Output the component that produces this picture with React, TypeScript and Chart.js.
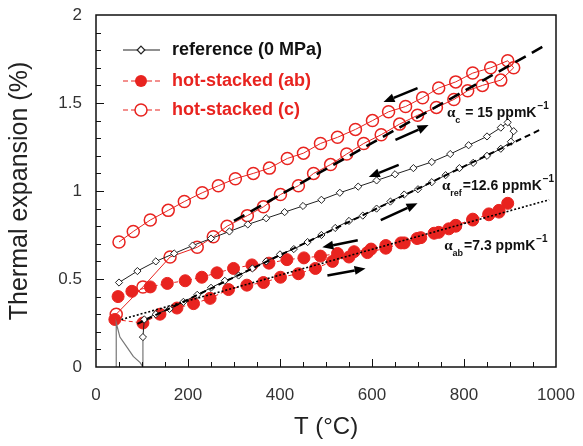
import React, { useEffect, useRef } from "react";
import { Chart, registerables } from "chart.js";

Chart.register(...registerables);

const FONT = "'Liberation Sans', Arial, Helvetica, sans-serif";
const SERIF = "'Liberation Serif', 'Times New Roman', serif";
const RED = "#e8231f";

// ---- tick labels ----
const xTickValues = [0, 200, 400, 600, 800, 1000];
const yTickValues = [0, 0.5, 1, 1.5, 2];

// ---- reference (0 MPa): heating branch, loop, cooling branch ----
const refT = [102, 105, 130, 160, 190, 220, 250, 280, 310, 340, 370, 400, 430, 460, 490, 520, 550, 580, 610, 640, 670, 700, 730, 760, 790, 820, 850, 880, 902,
  908, 895, 880, 850, 810, 770, 730, 690, 650, 610, 570, 530, 490, 450, 410, 370, 330, 290, 250, 210, 170, 130, 90, 50];
const refE = [0.17, 0.27, 0.30, 0.33, 0.37, 0.41, 0.45, 0.49, 0.52, 0.56, 0.60, 0.64, 0.67, 0.71, 0.75, 0.79, 0.83, 0.86, 0.90, 0.94, 0.98, 1.01, 1.05, 1.09, 1.13, 1.16, 1.20, 1.24, 1.28,
  1.34, 1.39, 1.36, 1.31, 1.26, 1.21, 1.165, 1.13, 1.095, 1.06, 1.025, 0.99, 0.95, 0.915, 0.88, 0.845, 0.81, 0.77, 0.73, 0.69, 0.645, 0.60, 0.545, 0.48];

// ---- initial transient (grey) ----
const transT = [44, 44, 52, 68, 81, 96, 102, 102];
const transE = [0, 0.25, 0.17, 0.11, 0.06, 0.025, 0.0, 0.17];

// ---- hot-stacked (ab): heating then cooling ----
const abT = [41, 102, 139, 176, 212, 248, 288, 328, 364, 401, 440, 477, 514, 550, 590, 630, 670, 706, 745, 782, 819, 854, 876, 895,
  876, 854, 819, 782, 767, 735, 698, 663, 630, 598, 561, 525, 488, 452, 415, 376, 339, 299, 263, 230, 194, 155, 118, 78, 48];
const abE = [0.27, 0.25, 0.30, 0.335, 0.36, 0.39, 0.44, 0.465, 0.48, 0.51, 0.53, 0.56, 0.60, 0.625, 0.65, 0.675, 0.705, 0.735, 0.765, 0.80, 0.835, 0.87, 0.88, 0.93,
  0.89, 0.865, 0.84, 0.805, 0.785, 0.76, 0.73, 0.705, 0.69, 0.67, 0.655, 0.645, 0.63, 0.62, 0.61, 0.59, 0.58, 0.56, 0.535, 0.51, 0.49, 0.475, 0.455, 0.43, 0.40];

// ---- hot-stacked (c): heating then cooling ----
const cT = [44, 102, 161, 220, 255, 285, 329, 364, 401, 440, 473, 510, 545, 582, 620, 660, 699, 740, 778, 808, 840, 880, 908,
  895, 858, 819, 782, 745, 710, 673, 636, 601, 564, 525, 488, 451, 416, 377, 342, 303, 266, 231, 192, 157, 118, 81, 50];
const cE = [0.30, 0.455, 0.625, 0.68, 0.74, 0.80, 0.86, 0.91, 0.98, 1.03, 1.10, 1.15, 1.21, 1.27, 1.32, 1.38, 1.43, 1.475, 1.52, 1.57, 1.60, 1.63, 1.70,
  1.74, 1.70, 1.67, 1.62, 1.585, 1.53, 1.48, 1.45, 1.40, 1.35, 1.305, 1.27, 1.215, 1.185, 1.13, 1.10, 1.07, 1.03, 0.99, 0.94, 0.89, 0.835, 0.77, 0.71];

// ---- linear fits ----
const fitCT = [300, 978];
const fitCE = [0.83, 1.83];
const fitRefT = [90, 967];
const fitRefE = [0.245, 1.35];
const fitAbT = [55, 985];
const fitAbE = [0.27, 0.95];

// ---- direction arrows (from -> to, data coords) ----
const arrowFromT = [699, 651, 658, 619, 569, 503];
const arrowFromE = [1.585, 1.29, 1.148, 0.835, 0.72, 0.52];
const arrowToT = [625, 723, 593, 699, 492, 586];
const arrowToE = [1.505, 1.375, 1.08, 0.93, 0.68, 0.56];

// ---- annotations ----
const annSub = ["c", "ref", "ab"];
const annText = [" = 15 ppmK", "=12.6 ppmK", "=7.3 ppmK"];
const annT = [763, 752, 757];
const annE = [1.42, 1.006, 0.665];

// ---- legend ----
const legendLabels = ["reference (0 MPa)", "hot-stacked (ab)", "hot-stacked (c)"];

const pts = (t: number[], e: number[]) => t.map((x, i) => ({ x, y: e[i] }));

function drawArrow(ctx: CanvasRenderingContext2D, x1: number, y1: number, x2: number, y2: number) {
  const ang = Math.atan2(y2 - y1, x2 - x1);
  const hl = 11, hw = 4.5;
  const bx = x2 - hl * Math.cos(ang), by = y2 - hl * Math.sin(ang);
  ctx.beginPath();
  ctx.moveTo(x1, y1);
  ctx.lineTo(bx, by);
  ctx.lineWidth = 2.5;
  ctx.stroke();
  ctx.beginPath();
  ctx.moveTo(x2, y2);
  ctx.lineTo(bx - hw * Math.sin(ang), by + hw * Math.cos(ang));
  ctx.lineTo(bx + hw * Math.sin(ang), by - hw * Math.cos(ang));
  ctx.closePath();
  ctx.fill();
}

const zeroPad = (s: any) => { s.paddingTop = 0; s.paddingBottom = 0; s.paddingLeft = 0; s.paddingRight = 0; };

const overlay = {
  id: "overlay",
  afterDatasetsDraw(chart: any) {
    const { ctx, chartArea: a, scales } = chart;
    const xs = scales.x, ys = scales.y;
    ctx.save();
    // frame
    ctx.strokeStyle = "#111";
    ctx.lineWidth = 1.5;
    ctx.strokeRect(a.left, a.top, a.right - a.left, a.bottom - a.top);
    // inward ticks
    ctx.lineWidth = 1;
    ctx.beginPath();
    for (let v = 50; v < 1000; v += 50) {
      const px = Math.round(xs.getPixelForValue(v)) + 0.5;
      const len = v % 200 === 0 ? 8 : 5;
      ctx.moveTo(px, a.bottom);
      ctx.lineTo(px, a.bottom - len);
    }
    for (let k = 1; k < 20; k++) {
      const v = k / 10;
      const py = Math.round(ys.getPixelForValue(v)) + 0.5;
      const len = k % 5 === 0 ? 8 : 5;
      ctx.moveTo(a.left, py);
      ctx.lineTo(a.left + len, py);
    }
    ctx.stroke();

    // arrows
    ctx.strokeStyle = "#000";
    ctx.fillStyle = "#000";
    for (let i = 0; i < arrowFromT.length; i++) {
      drawArrow(ctx,
        xs.getPixelForValue(arrowFromT[i]), ys.getPixelForValue(arrowFromE[i]),
        xs.getPixelForValue(arrowToT[i]), ys.getPixelForValue(arrowToE[i]));
    }

    // annotations
    ctx.textBaseline = "alphabetic";
    ctx.textAlign = "left";
    for (let i = 0; i < annSub.length; i++) {
      let px = xs.getPixelForValue(annT[i]);
      const py = ys.getPixelForValue(annE[i]);
      ctx.fillStyle = "#111";
      ctx.font = `bold 15px ${SERIF}`;
      ctx.fillText("α", px, py);
      px += ctx.measureText("α").width;
      ctx.font = `bold 9px ${FONT}`;
      ctx.fillText(annSub[i], px, py + 6);
      px += ctx.measureText(annSub[i]).width + 1;
      ctx.font = `bold 14px ${FONT}`;
      ctx.fillText(annText[i], px, py);
      px += ctx.measureText(annText[i]).width + 1;
      ctx.font = `bold 10px ${FONT}`;
      ctx.fillText("−1", px, py - 8);
    }

    // legend
    const lx0 = 123, lx1 = 160, lpx = 141, tx = 172;
    const ly = [50, 81, 110];
    ctx.strokeStyle = "#222";
    ctx.lineWidth = 1.2;
    ctx.setLineDash([]);
    ctx.beginPath(); ctx.moveTo(lx0, ly[0]); ctx.lineTo(lx1, ly[0]); ctx.stroke();
    ctx.fillStyle = "#fff";
    ctx.beginPath();
    ctx.moveTo(lpx, ly[0] - 3.8); ctx.lineTo(lpx + 3.8, ly[0]); ctx.lineTo(lpx, ly[0] + 3.8); ctx.lineTo(lpx - 3.8, ly[0]); ctx.closePath();
    ctx.fill(); ctx.stroke();
    ctx.strokeStyle = RED;
    ctx.setLineDash([5, 3]);
    ctx.beginPath(); ctx.moveTo(lx0, ly[1]); ctx.lineTo(lx1, ly[1]); ctx.stroke();
    ctx.setLineDash([]);
    ctx.fillStyle = RED;
    ctx.beginPath(); ctx.arc(lpx, ly[1], 6, 0, Math.PI * 2); ctx.fill();
    ctx.setLineDash([5, 3]);
    ctx.beginPath(); ctx.moveTo(lx0, ly[2]); ctx.lineTo(lpx - 6, ly[2]); ctx.moveTo(lpx + 6, ly[2]); ctx.lineTo(lx1, ly[2]); ctx.stroke();
    ctx.setLineDash([]);
    ctx.lineWidth = 1.5;
    ctx.beginPath(); ctx.arc(lpx, ly[2], 6, 0, Math.PI * 2); ctx.stroke();
    ctx.font = `bold 18px ${FONT}`;
    ctx.textBaseline = "middle";
    ctx.fillStyle = "#111";
    ctx.fillText(legendLabels[0], tx, ly[0]);
    ctx.fillStyle = RED;
    ctx.fillText(legendLabels[1], tx, ly[1]);
    ctx.fillText(legendLabels[2], tx, ly[2]);
    ctx.restore();
  },
};

export default function App() {
  const ref = useRef<HTMLCanvasElement | null>(null);
  useEffect(() => {
    document.body.style.margin = "0";
    if (!ref.current) return;
    const chart = new Chart(ref.current, {
      type: "scatter",
      data: {
        datasets: [
          { label: "fit c", data: pts(fitCT, fitCE), showLine: true, borderColor: "#000", borderWidth: 2.6, borderDash: [12, 7], pointRadius: 0 },
          { label: "fit ref", data: pts(fitRefT, fitRefE), showLine: true, borderColor: "#000", borderWidth: 2, borderDash: [6, 4], pointRadius: 0 },
          { label: "fit ab", data: pts(fitAbT, fitAbE), showLine: true, borderColor: "#000", borderWidth: 1.6, borderDash: [2, 2], pointRadius: 0 },
          { label: "reference (0 MPa)", data: pts(refT, refE), showLine: true, borderColor: "#222", borderWidth: 1, pointStyle: "rectRot", pointRadius: 3.6, pointBackgroundColor: "#fff", pointBorderColor: "#222", pointBorderWidth: 1 },
          { label: "transient", data: pts(transT, transE), showLine: true, borderColor: "#777", borderWidth: 1.2, pointRadius: 0 },
          { label: "hot-stacked (c)", data: pts(cT, cE), showLine: true, borderColor: RED, borderWidth: 1, pointStyle: "circle", pointRadius: 6, pointBackgroundColor: "rgba(255,255,255,0)", pointBorderColor: RED, pointBorderWidth: 1.5 },
          { label: "hot-stacked (ab)", data: pts(abT, abE), showLine: true, borderColor: RED, borderWidth: 1, borderDash: [4, 3], pointStyle: "circle", pointRadius: 6, pointBackgroundColor: RED, pointBorderColor: RED, pointBorderWidth: 1 },
        ],
      },
      options: {
        animation: false,
        responsive: false,
        devicePixelRatio: 1,
        layout: { padding: { left: 0, right: 27, top: 15, bottom: 0 } },
        plugins: { legend: { display: false }, tooltip: { enabled: false } },
        scales: {
          x: {
            type: "linear",
            min: 0,
            max: 1000,
            afterBuildTicks: (s: any) => { s.ticks = xTickValues.map((v) => ({ value: v })); },
            afterFit: (s: any) => { s.height = 79; zeroPad(s); },
            ticks: { padding: 18, color: "#333", font: { family: FONT, size: 17 }, callback: (v: any) => String(v) },
            grid: { display: false, drawTicks: false },
            border: { display: false },
            title: { display: true, text: "T (°C)", color: "#222", font: { family: FONT, size: 24 }, padding: { top: 0, bottom: 4 } },
          },
          y: {
            type: "linear",
            min: 0,
            max: 2,
            afterBuildTicks: (s: any) => { s.ticks = yTickValues.map((v) => ({ value: v })); },
            afterFit: (s: any) => { s.width = 96; zeroPad(s); },
            ticks: { padding: 14, color: "#333", font: { family: FONT, size: 17 }, callback: (v: any) => String(v) },
            grid: { display: false, drawTicks: false },
            border: { display: false },
            title: { display: true, text: "Thermal expansion (%)", color: "#222", font: { family: FONT, size: 25 }, padding: { top: 5, bottom: 0 } },
          },
        },
      },
      plugins: [overlay],
    } as any);
    return () => chart.destroy();
  }, []);
  return <canvas ref={ref} width={583} height={446} style={{ display: "block" }} />;
}
